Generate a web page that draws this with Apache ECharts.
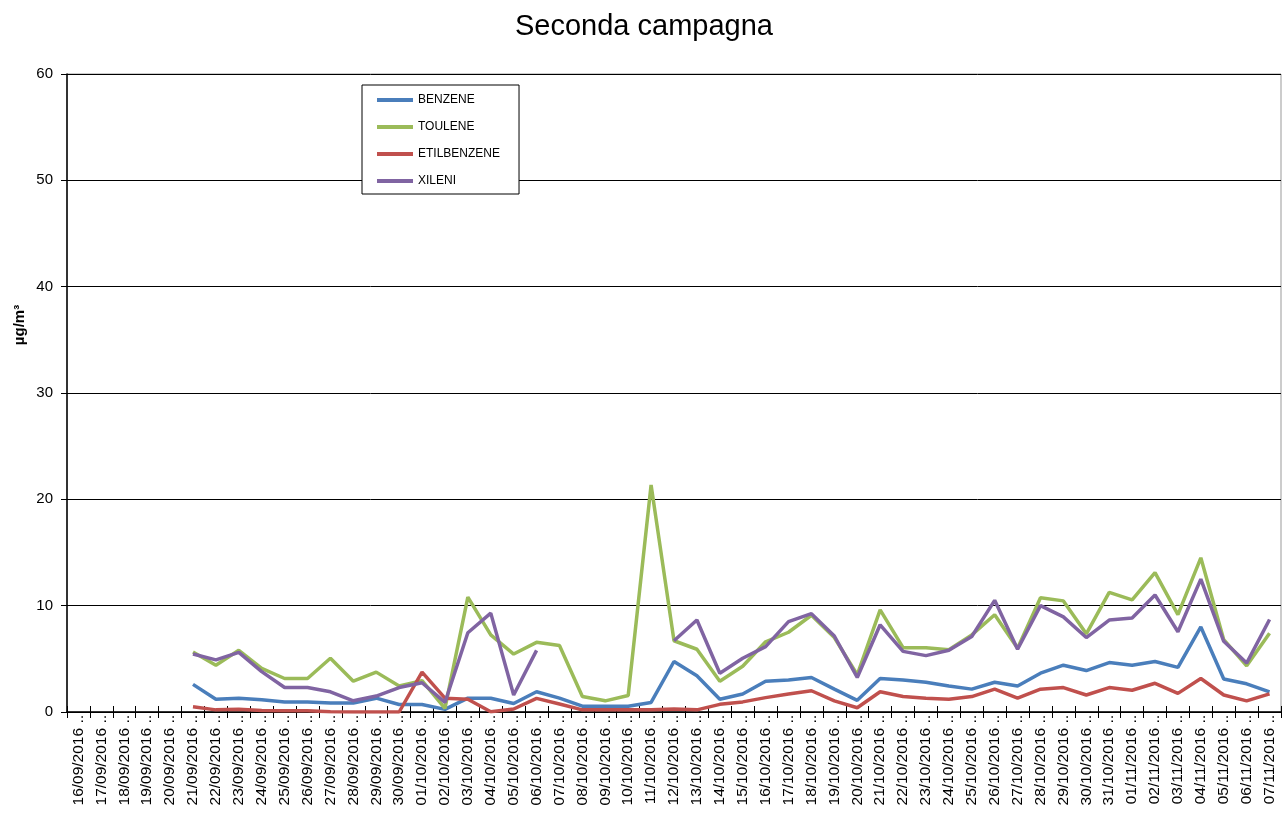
<!DOCTYPE html>
<html>
<head>
<meta charset="utf-8">
<script src="https://cdn.jsdelivr.net/npm/echarts@6/dist/echarts.min.js"></script>
<style>
html,body{margin:0;padding:0;background:#fff;}
#c{width:1288px;height:814px;}
</style>
</head>
<body>
<div id="c"></div>
<script>
var dates = [
 "16/09/2016 ..","17/09/2016 ..","18/09/2016 ..","19/09/2016 ..","20/09/2016 ..","21/09/2016 ..","22/09/2016 ..","23/09/2016 ..","24/09/2016 ..","25/09/2016 ..",
 "26/09/2016 ..","27/09/2016 ..","28/09/2016 ..","29/09/2016 ..","30/09/2016 ..","01/10/2016 ..","02/10/2016 ..","03/10/2016 ..","04/10/2016 ..","05/10/2016 ..",
 "06/10/2016 ..","07/10/2016 ..","08/10/2016 ..","09/10/2016 ..","10/10/2016 ..","11/10/2016 ..","12/10/2016 ..","13/10/2016 ..","14/10/2016 ..","15/10/2016 ..",
 "16/10/2016 ..","17/10/2016 ..","18/10/2016 ..","19/10/2016 ..","20/10/2016 ..","21/10/2016 ..","22/10/2016 ..","23/10/2016 ..","24/10/2016 ..","25/10/2016 ..",
 "26/10/2016 ..","27/10/2016 ..","28/10/2016 ..","29/10/2016 ..","30/10/2016 ..","31/10/2016 ..","01/11/2016 ..","02/11/2016 ..","03/11/2016 ..","04/11/2016 ..",
 "05/11/2016 ..","06/11/2016 ..","07/11/2016 .."
];
var benzene = [null,null,null,null,null,
 2.6,1.2,1.3,1.15,0.95,0.95,0.85,0.85,1.3,0.7,0.7,0.25,1.3,
 1.3,0.8,1.9,1.3,0.55,0.55,0.55,0.9,
 4.75,3.4,1.2,1.7,2.9,
 3.0,3.25,2.15,1.1,3.15,
 3.0,2.8,2.45,2.15,2.8,
 2.45,3.65,4.4,3.9,4.65,
 4.4,4.75,4.2,8.0,3.1,
 2.65,1.9];
var toulene = [null,null,null,null,null,
 5.65,4.4,5.8,4.1,3.15,3.15,5.05,2.9,3.75,2.45,2.95,0.35,10.8,
 7.25,5.45,6.55,6.25,1.45,1.05,1.55,21.35,
 6.7,5.9,2.9,4.3,6.6,
 7.5,9.1,7.0,3.5,9.6,
 6.05,6.05,5.85,7.25,9.15,
 6.0,10.75,10.45,7.35,11.25,
 10.55,13.1,9.15,14.5,6.8,
 4.35,7.4];
var etilbenzene = [null,null,null,null,null,
 0.5,0.2,0.25,0.15,0.12,0.12,0.03,0.0,0.0,0.0,3.75,1.3,1.2,
 0.03,0.28,1.28,0.75,0.2,0.2,0.2,0.2,
 0.28,0.2,0.72,0.95,1.35,
 1.7,2.0,1.05,0.4,1.9,
 1.45,1.3,1.2,1.45,2.15,
 1.3,2.15,2.3,1.6,2.3,
 2.05,2.7,1.75,3.15,1.6,
 1.05,1.7];
var xileni = [null,null,null,null,null,
 5.45,4.9,5.6,3.8,2.3,2.3,1.9,1.05,1.5,2.3,2.75,0.9,7.45,
 9.3,1.6,5.8,null,null,null,null,null,
 6.7,8.65,3.65,5.05,6.15,
 8.5,9.25,7.15,3.25,8.2,
 5.7,5.3,5.8,7.1,10.5,
 5.9,10.0,8.95,7.0,8.65,
 8.85,11.0,7.55,12.5,6.65,
 4.6,8.7];
var seriesNames = ["BENZENE","TOULENE","ETILBENZENE","XILENI"];
var seriesColors = ["#4A7EBB","#9BBB59","#C0504D","#8064A2"];
var seriesData = [benzene, toulene, etilbenzene, xileni];

var FONT = "'Liberation Sans', Arial, sans-serif";
var chart = echarts.init(document.getElementById('c'), null, {renderer:'canvas'});
var series = seriesNames.map(function(n,i){
  return {
    name:n, type:'line', xAxisIndex:0, yAxisIndex:0,
    data:seriesData[i], showSymbol:false, symbol:'none', connectNulls:false,
    lineStyle:{color:seriesColors[i], width:3.5},
    itemStyle:{color:seriesColors[i]},
    emphasis:{disabled:true}, animation:false
  };
});
chart.setOption({
  backgroundColor:'#fff',
  animation:false,
  textStyle:{fontFamily:FONT},
  title:{text:'Seconda campagna', left:'center', top:7,
    textStyle:{fontFamily:FONT, fontSize:29, fontWeight:'normal', color:'#000'}},
  legend:{
    orient:'vertical', left:362, top:85,
    padding:[8,19,6,15], itemGap:13, itemWidth:36, itemHeight:4, icon:'rect',
    backgroundColor:'#fff', borderColor:'#000', borderWidth:1,
    textStyle:{fontFamily:FONT, fontSize:12, color:'#000', lineHeight:14},
    data:seriesNames
  },
  grid:{left:67, right:7, top:74, bottom:102, show:true, borderColor:'#999', borderWidth:1, backgroundColor:'transparent'},
  xAxis:[{
    type:'category', data:dates, boundaryGap:true, position:'bottom',
    axisLine:{lineStyle:{color:'#000', width:1.5}},
    axisTick:{show:true, interval:0, length:6, lineStyle:{color:'#000'}},
    axisLabel:{interval:0, rotate:90, fontFamily:FONT, fontSize:15.5, color:'#000', margin:3},
    splitLine:{show:false}
  },{
    type:'category', data:dates, boundaryGap:true, position:'bottom', offset:0,
    axisLine:{show:false},
    axisTick:{show:true, inside:true, interval:0, length:6, lineStyle:{color:'#000'}},
    axisLabel:{show:false}, splitLine:{show:false}
  }],
  yAxis:{
    type:'value', min:0, max:60, interval:10,
    axisLine:{show:true, lineStyle:{color:'#000', width:1.5}},
    axisTick:{show:true, length:6, lineStyle:{color:'#000'}},
    axisLabel:{fontFamily:FONT, fontSize:15, color:'#000', margin:14},
    splitLine:{show:true, lineStyle:{color:'#000', width:1}}
  },
  graphic:[{
    type:'text', x:20, y:325, rotation:Math.PI/2,
    style:{text:'\u00b5g/m\u00b3', font:"bold 15px 'Liberation Sans', Arial, sans-serif", fill:'#000', align:'center', verticalAlign:'middle'}
  }],
  series:series
});
</script>
</body>
</html>
